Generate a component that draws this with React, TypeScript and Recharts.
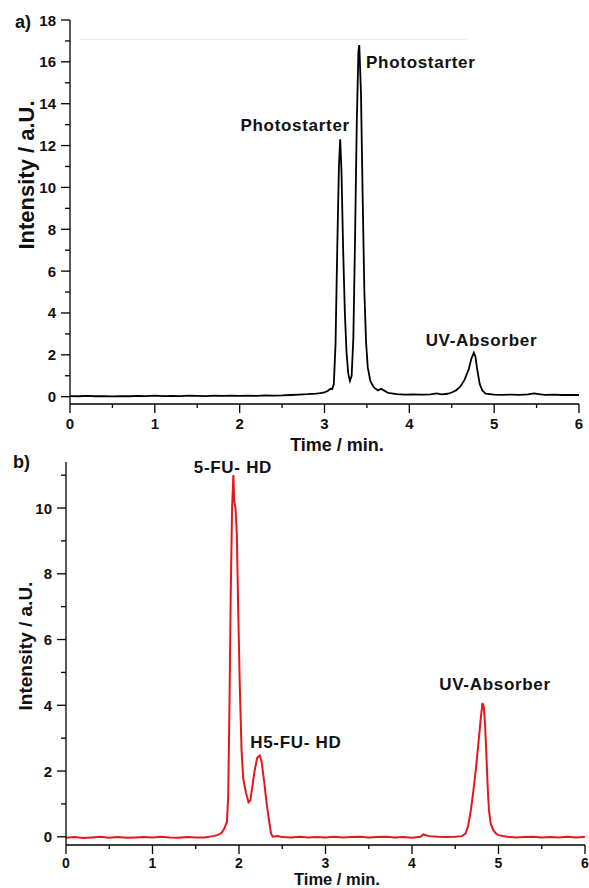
import React from 'react';
import { LineChart, Line, XAxis, YAxis, ReferenceDot, ReferenceLine } from 'recharts';

const FONT = '"Liberation Sans", Arial, Helvetica, sans-serif';

// shared time axis (minor ticks every 0.5 min)
const timeTicks = [0, 0.5, 1, 1.5, 2, 2.5, 3, 3.5, 4, 4.5, 5, 5.5, 6];
const intensityTicksA = [0, 1, 2, 3, 4, 5, 6, 7, 8, 9, 10, 11, 12, 13, 14, 15, 16, 17, 18];
const intensityTicksB = [0, 1, 2, 3, 4, 5, 6, 7, 8, 9, 10, 11];

// a) chromatogram, [time, intensity]
const traceA: [number, number][] = [
  [0, 0.03], [0.1, 0.02], [0.2, 0.04], [0.3, 0.02], [0.4, 0.03], [0.5, 0.01], [0.6, 0.03],
  [0.7, 0.02], [0.8, 0.04], [0.9, 0.03], [1.0, 0.05], [1.1, 0.03], [1.2, 0.04], [1.3, 0.03],
  [1.4, 0.05], [1.5, 0.04], [1.6, 0.03], [1.7, 0.05], [1.8, 0.04], [1.9, 0.05], [2.0, 0.04],
  [2.1, 0.05], [2.2, 0.04], [2.3, 0.06], [2.4, 0.05], [2.5, 0.06], [2.6, 0.08], [2.7, 0.1],
  [2.8, 0.12], [2.9, 0.15], [2.95, 0.17], [3.0, 0.2], [3.04, 0.28], [3.07, 0.38], [3.09, 0.36],
  [3.11, 0.6], [3.13, 2.5], [3.15, 7.0], [3.17, 11.0], [3.185, 12.3], [3.2, 10.8], [3.22, 7.0],
  [3.24, 4.0], [3.26, 2.1], [3.28, 1.1], [3.3, 0.75], [3.32, 1.0], [3.34, 2.8], [3.36, 7.5],
  [3.38, 13.0], [3.4, 16.5], [3.41, 16.8], [3.43, 14.5], [3.45, 9.5], [3.47, 5.0], [3.49, 2.6],
  [3.51, 1.4], [3.54, 0.75], [3.58, 0.45], [3.63, 0.3], [3.67, 0.38], [3.7, 0.3], [3.75, 0.18],
  [3.85, 0.12], [3.95, 0.1], [4.05, 0.11], [4.15, 0.1], [4.25, 0.11], [4.32, 0.16], [4.38, 0.11],
  [4.45, 0.14], [4.5, 0.2], [4.55, 0.3], [4.6, 0.48], [4.65, 0.8], [4.7, 1.3], [4.73, 1.8],
  [4.76, 2.1], [4.78, 1.9], [4.8, 1.3], [4.83, 0.6], [4.86, 0.3], [4.9, 0.15], [5.0, 0.1],
  [5.1, 0.09], [5.2, 0.1], [5.3, 0.09], [5.4, 0.11], [5.47, 0.16], [5.55, 0.11], [5.6, 0.09],
  [5.7, 0.1], [5.8, 0.08], [5.9, 0.09], [6.0, 0.08],
];

// b) chromatogram, [time, intensity]
const traceB: [number, number][] = [
  [0, -0.03], [0.1, -0.01], [0.2, -0.04], [0.3, -0.02], [0.4, 0.0], [0.5, -0.03], [0.6, -0.01],
  [0.7, -0.03], [0.8, -0.02], [0.9, -0.01], [1.0, -0.02], [1.1, 0.0], [1.2, -0.02], [1.3, -0.03],
  [1.4, -0.01], [1.5, -0.02], [1.6, -0.02], [1.7, 0.02], [1.75, 0.05], [1.8, 0.12], [1.83, 0.25],
  [1.86, 0.45], [1.875, 1.2], [1.89, 4.0], [1.905, 7.5], [1.92, 10.0], [1.935, 11.0],
  [1.945, 10.2], [1.96, 10.0], [1.975, 9.2], [1.99, 7.0], [2.01, 4.5], [2.03, 2.6], [2.05, 1.75],
  [2.08, 1.35], [2.11, 1.05], [2.13, 1.1], [2.15, 1.45], [2.18, 2.0], [2.21, 2.4], [2.24, 2.47],
  [2.26, 2.3], [2.29, 1.7], [2.32, 1.0], [2.35, 0.45], [2.37, 0.1], [2.39, 0.0], [2.45, 0.02],
  [2.5, -0.01], [2.6, -0.02], [2.7, 0.0], [2.8, -0.02], [2.9, -0.01], [3.0, -0.02], [3.1, 0.0],
  [3.2, -0.02], [3.3, -0.01], [3.4, 0.0], [3.5, -0.02], [3.6, -0.01], [3.7, 0.0], [3.8, -0.02],
  [3.9, -0.01], [4.0, -0.03], [4.1, 0.0], [4.13, 0.07], [4.2, 0.02], [4.3, 0.0], [4.4, -0.01],
  [4.5, 0.0], [4.58, 0.02], [4.62, 0.1], [4.65, 0.35], [4.68, 0.8], [4.71, 1.4], [4.74, 2.1],
  [4.77, 2.9], [4.795, 3.6], [4.815, 4.07], [4.83, 3.95], [4.845, 3.4], [4.86, 2.5], [4.875, 1.5],
  [4.89, 0.8], [4.91, 0.4], [4.94, 0.2], [4.97, 0.1], [5.0, 0.05], [5.1, 0.0], [5.2, -0.02],
  [5.3, -0.01], [5.4, 0.0], [5.5, -0.02], [5.6, -0.01], [5.7, -0.02], [5.8, 0.0], [5.9, -0.02],
  [6.0, 0.0],
];

const peakLabelsA = [
  { text: 'Photostarter', t: 3.3, v: 12.97, anchor: 'end' },
  { text: 'Photostarter', t: 3.49, v: 16.0, anchor: 'start' },
  { text: 'UV-Absorber', t: 4.85, v: 2.73, anchor: 'middle' },
];

const peakLabelsB = [
  { text: '5-FU- HD', t: 1.93, v: 11.25, anchor: 'middle' },
  { text: 'H5-FU- HD', t: 2.13, v: 2.89, anchor: 'start' },
  { text: 'UV-Absorber', t: 4.96, v: 4.65, anchor: 'middle' },
];

const toRows = (trace: [number, number][]) => trace.map(([t, v]) => ({ t, v }));

const textStyle = { fontFamily: FONT, fontWeight: 'bold' as const, fill: '#111' };

const XTick = (props: any) => {
  const { x, y, payload, labelGap, size } = props;
  const major = Number.isInteger(payload.value);
  return (
    <g>
      <line x1={x} x2={x} y1={y} y2={y + (major ? 9 : 4)} stroke='#000' strokeWidth={1.3} />
      {major && (
        <text x={x} y={y + labelGap} textAnchor='middle' fontSize={size} {...textStyle}>
          {payload.value}
        </text>
      )}
    </g>
  );
};

const YTick = (props: any) => {
  const { x, y, payload, labelGap } = props;
  const major = payload.value % 2 === 0;
  return (
    <g>
      <line x1={x - (major ? 9 : 5)} x2={x} y1={y} y2={y} stroke='#000' strokeWidth={1.3} />
      {major && (
        <text x={x - labelGap} y={y + 5.5} textAnchor='end' fontSize={15} {...textStyle}>
          {payload.value}
        </text>
      )}
    </g>
  );
};

const PeakLabel = ({ viewBox, text, anchor }: any) => (
  <text
    x={viewBox.x}
    y={viewBox.y}
    dy='0.36em'
    textAnchor={anchor}
    fontSize={17}
    letterSpacing={0.7}
    {...textStyle}
  >
    {text}
  </text>
);

const App = () => {
  const rowsA = toRows(traceA);
  const rowsB = toRows(traceB);

  return (
    <div style={{ position: 'absolute', left: 0, top: 0, width: 589, height: 888, background: '#fff' }}>
      {/* a) */}
      <div style={{ position: 'absolute', left: 0, top: 0 }}>
        <LineChart width={589} height={455} data={rowsA} margin={{ top: 20, right: 10, left: 10, bottom: 0 }}>
          <XAxis
            dataKey='t'
            type='number'
            domain={[0, 6]}
            ticks={timeTicks}
            interval={0}
            height={51}
            tickSize={0}
            tickMargin={0}
            tickLine={false}
            axisLine={{ stroke: '#000', strokeWidth: 1.3 }}
            tick={(p: any) => <XTick {...p} labelGap={24.5} size={15} />}
            label={{
              content: ({ viewBox }: any) => (
                <text x={337} y={viewBox.y + 47} textAnchor='middle' fontSize={18} {...textStyle}>
                  Time / min.
                </text>
              ),
            }}
          />
          <YAxis
            type='number'
            domain={[-0.35, 18]}
            ticks={intensityTicksA}
            interval={0}
            width={60}
            tickSize={0}
            tickMargin={0}
            tickLine={false}
            axisLine={{ stroke: '#000', strokeWidth: 1.3 }}
            tick={(p: any) => <YTick {...p} labelGap={14} />}
            label={{
              content: () => (
                <text x={26} y={175} transform='rotate(-90 26 175)' dy='0.36em' textAnchor='middle' fontSize={22} {...textStyle}>
                  Intensity / a.U.
                </text>
              ),
            }}
          />
          <ReferenceLine
            segment={[{ x: 0.12, y: 17.08 }, { x: 4.68, y: 17.08 }]}
            stroke='#f3ebeb'
            strokeWidth={1.5}
            ifOverflow='visible'
          />
          <Line dataKey='v' type='linear' stroke='#000' strokeWidth={1.8} dot={false} isAnimationActive={false} />
          {peakLabelsA.map((l, i) => (
            <ReferenceDot
              key={i}
              x={l.t}
              y={l.v}
              r={0}
              fill='none'
              stroke='none'
              ifOverflow='visible'
              label={{ content: (p: any) => <PeakLabel {...p} text={l.text} anchor={l.anchor} /> }}
            />
          ))}
        </LineChart>
        <div style={{ position: 'absolute', left: 15, top: 12, font: `bold 18px ${FONT}`, color: '#111' }}>a)</div>
      </div>

      {/* b) */}
      <div style={{ position: 'absolute', left: 0, top: 440 }}>
        <LineChart width={589} height={448} data={rowsB} margin={{ top: 22, right: 4, left: 6, bottom: 0 }}>
          <XAxis
            dataKey='t'
            type='number'
            domain={[0, 6]}
            ticks={timeTicks}
            interval={0}
            height={43}
            tickSize={0}
            tickMargin={0}
            tickLine={false}
            axisLine={{ stroke: '#000', strokeWidth: 1.3 }}
            tick={(p: any) => <XTick {...p} labelGap={22.5} size={14} />}
            label={{
              content: ({ viewBox }: any) => (
                <text x={337} y={viewBox.y + 40} textAnchor='middle' fontSize={16.5} {...textStyle}>
                  Time / min.
                </text>
              ),
            }}
          />
          <YAxis
            type='number'
            domain={[-0.25, 11.4]}
            ticks={intensityTicksB}
            interval={0}
            width={60}
            tickSize={0}
            tickMargin={0}
            tickLine={false}
            axisLine={{ stroke: '#000', strokeWidth: 1.3 }}
            tick={(p: any) => <YTick {...p} labelGap={14} />}
            label={{
              content: () => (
                <text x={25} y={206} transform='rotate(-90 25 206)' dy='0.36em' textAnchor='middle' fontSize={19} {...textStyle}>
                  Intensity / a.U.
                </text>
              ),
            }}
          />
          <Line dataKey='v' type='linear' stroke='#e4181c' strokeWidth={2} dot={false} isAnimationActive={false} />
          {peakLabelsB.map((l, i) => (
            <ReferenceDot
              key={i}
              x={l.t}
              y={l.v}
              r={0}
              fill='none'
              stroke='none'
              ifOverflow='visible'
              label={{ content: (p: any) => <PeakLabel {...p} text={l.text} anchor={l.anchor} /> }}
            />
          ))}
        </LineChart>
        <div style={{ position: 'absolute', left: 13, top: 12, font: `bold 18px ${FONT}`, color: '#111' }}>b)</div>
      </div>
    </div>
  );
};

export default App;
